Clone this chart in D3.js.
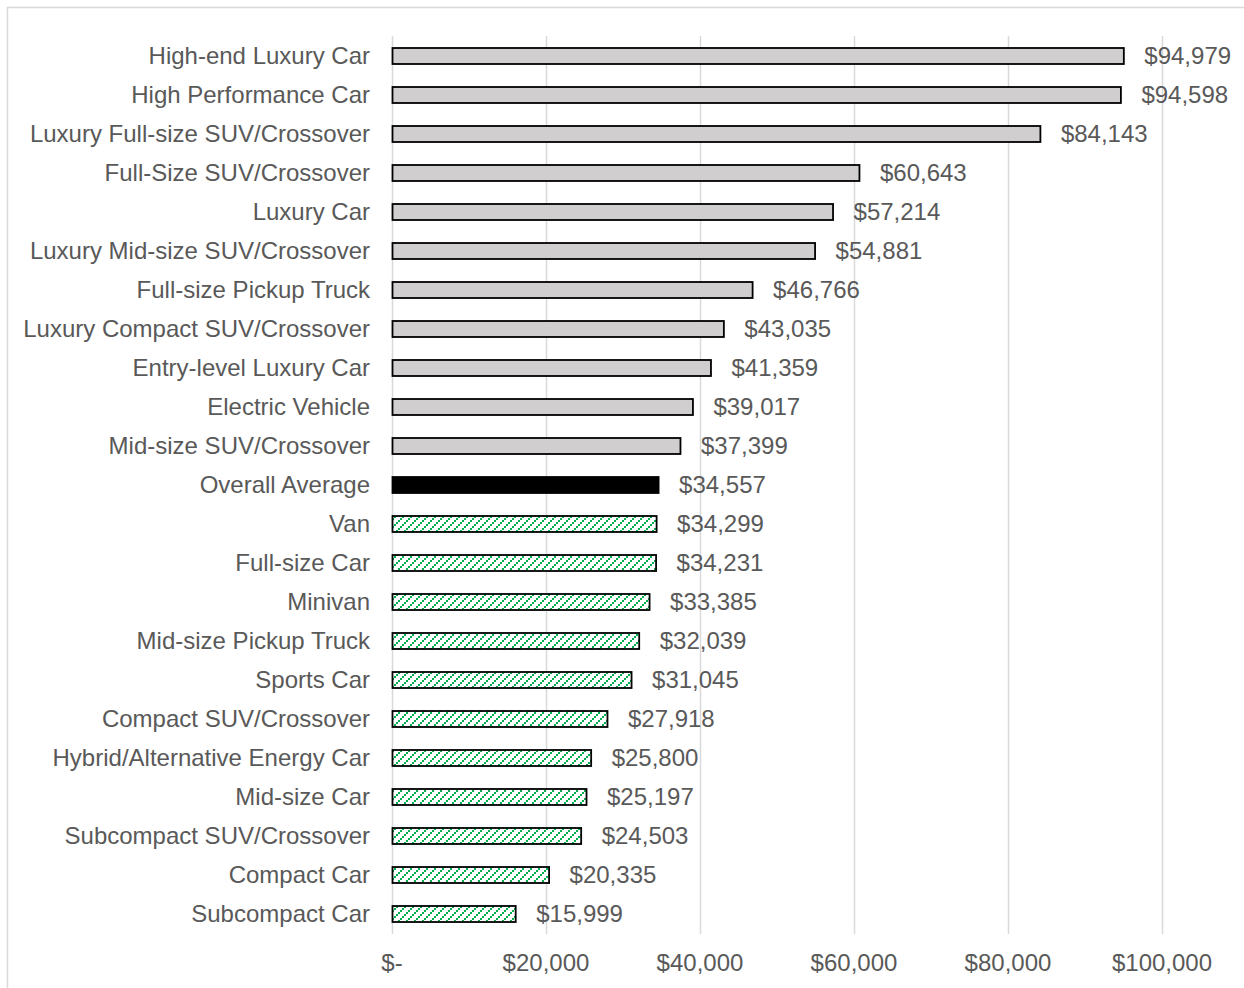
<!DOCTYPE html>
<html>
<head>
<meta charset="utf-8">
<script src="https://cdn.jsdelivr.net/npm/d3@7"></script>
<style>
  body { margin: 0; background: #fff; }
  svg { display: block; font-family: Arial, "Liberation Sans", sans-serif; }
</style>
</head>
<body>
<svg id="chart" width="1244" height="988"></svg>
<script>
const categories = [
    "High-end Luxury Car", "High Performance Car", "Luxury Full-size SUV/Crossover",
    "Full-Size SUV/Crossover", "Luxury Car", "Luxury Mid-size SUV/Crossover",
    "Full-size Pickup Truck", "Luxury Compact SUV/Crossover", "Entry-level Luxury Car",
    "Electric Vehicle", "Mid-size SUV/Crossover", "Overall Average", "Van",
    "Full-size Car", "Minivan", "Mid-size Pickup Truck", "Sports Car",
    "Compact SUV/Crossover", "Hybrid/Alternative Energy Car", "Mid-size Car",
    "Subcompact SUV/Crossover", "Compact Car", "Subcompact Car"
];
const prices = [
    94979, 94598, 84143, 60643, 57214, 54881, 46766, 43035, 41359, 39017, 37399,
    34557, 34299, 34231, 33385, 32039, 31045, 27918, 25800, 25197, 24503, 20335, 15999
];
const xTicks = [0, 20000, 40000, 60000, 80000, 100000];

const avgIndex = categories.indexOf("Overall Average");
const data = categories.map((c, i) => ({
    name: c,
    value: prices[i],
    kind: i < avgIndex ? "above" : (i === avgIndex ? "avg" : "below")
}));

const svg = d3.select("#chart");

// outer chart border (runs off the right and bottom edges)
svg.append("rect")
    .attr("x", 7.5).attr("y", 7.5)
    .attr("width", 1260).attr("height", 1000)
    .attr("fill", "none")
    .attr("stroke", "#d9d9d9")
    .attr("stroke-width", 1.5);

// green wide upward diagonal hatch, built from 2px steps like the Excel bitmap
const defs = svg.append("defs");
const pat = defs.append("pattern")
    .attr("id", "hatch")
    .attr("patternUnits", "userSpaceOnUse")
    .attr("width", 8).attr("height", 8);
pat.append("rect").attr("width", 8).attr("height", 8).attr("fill", "#fff");
pat.selectAll("rect.step")
    .data([[0, 6], [2, 4], [4, 2], [6, 0]])
    .enter().append("rect")
    .attr("class", "step")
    .attr("x", (d) => d[0]).attr("y", (d) => d[1])
    .attr("width", 2).attr("height", 2)
    .attr("fill", "#00b050");

const x = d3.scaleLinear()
    .domain([0, 100000])
    .range([392, 1162]);

const y = d3.scaleBand()
    .domain(categories)
    .range([36.5, 933.5])
    .paddingInner(0.59)
    .paddingOuter(0.295);

// gridlines
svg.append("g")
    .selectAll("line")
    .data(xTicks)
    .enter().append("line")
    .attr("x1", (d) => x(d) + 0.5)
    .attr("x2", (d) => x(d) + 0.5)
    .attr("y1", 36)
    .attr("y2", 934)
    .attr("stroke", "#d9d9d9")
    .attr("stroke-width", 1.5);

// x axis labels
const fmt = d3.format(",");
svg.append("g")
    .selectAll("text")
    .data(xTicks)
    .enter().append("text")
    .attr("x", (d) => x(d))
    .attr("y", 971)
    .attr("text-anchor", "middle")
    .attr("font-size", 24)
    .attr("fill", "#595959")
    .text((d) => d === 0 ? "$-" : "$" + fmt(d));

// bars
svg.append("g")
    .selectAll("rect")
    .data(data)
    .enter().append("rect")
    .attr("x", x(0) + 0.5)
    .attr("y", (d) => y(d.name))
    .attr("width", (d) => x(d.value) - x(0))
    .attr("height", y.bandwidth())
    .attr("fill", (d) => d.kind === "above" ? "#d0cece" : (d.kind === "avg" ? "#000" : "url(#hatch)"))
    .attr("stroke", "#000")
    .attr("stroke-width", 1.8);

// category labels
svg.append("g")
    .selectAll("text")
    .data(data)
    .enter().append("text")
    .attr("x", 370)
    .attr("y", (d) => y(d.name) + y.bandwidth() / 2)
    .attr("dy", "0.35em")
    .attr("text-anchor", "end")
    .attr("font-size", 24)
    .attr("fill", "#595959")
    .text((d) => d.name);

// value labels
svg.append("g")
    .selectAll("text")
    .data(data)
    .enter().append("text")
    .attr("x", (d) => x(d.value) + 21)
    .attr("y", (d) => y(d.name) + y.bandwidth() / 2)
    .attr("dy", "0.35em")
    .attr("font-size", 24)
    .attr("fill", "#595959")
    .text((d) => "$" + fmt(d.value));
</script>
</body>
</html>
